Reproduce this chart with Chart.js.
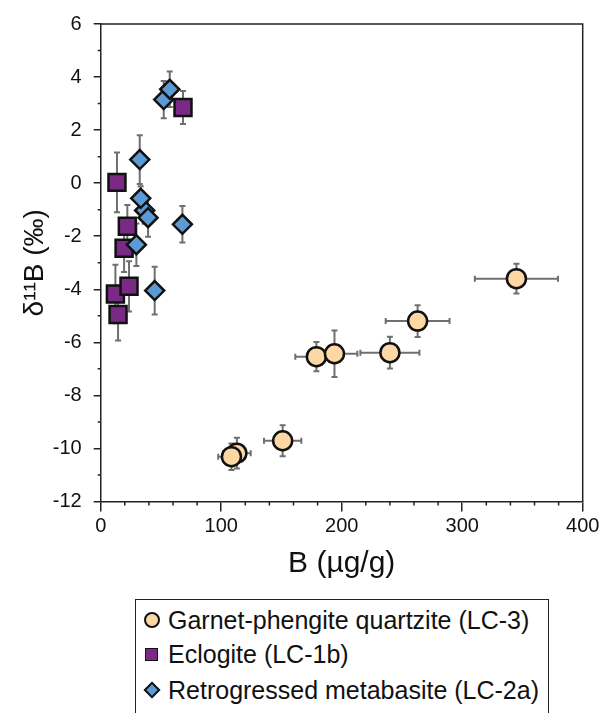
<!DOCTYPE html>
<html>
<head>
<meta charset="utf-8">
<script src="https://cdn.jsdelivr.net/npm/chart.js@4.4.0/dist/chart.umd.min.js"></script>
<style>
  html, body { margin: 0; padding: 0; background: #fff; }
  #wrap { position: relative; width: 605px; height: 713px; overflow: hidden; }
  #legend {
    position: absolute; left: 135px; top: 599px; width: 414px; height: 150px;
    border: 1.5px solid #222; box-sizing: border-box; background: #fff;
    font-family: "Liberation Sans", Arial, sans-serif; font-size: 25px; color: #111;
  }
  .item { position: absolute; left: 0; height: 30px; line-height: 30px; white-space: nowrap; }
  .item span.txt { position: absolute; left: 32px; top: 0; }
  .mark { position: absolute; box-sizing: border-box; }
  .m-circle { left: 7.5px; top: 7px; width: 16px; height: 16px; border-radius: 50%; background: #fdd8a5; border: 2px solid #111; }
  .m-square { left: 9px; top: 8.5px; width: 13px; height: 13px; background: #7a2a85; border: 1.5px solid #111; }
  .m-diamond { left: 9.5px; top: 9px; width: 12px; height: 12px; background: #5b9bd5; border: 2px solid #111; transform: rotate(45deg); }
</style>
</head>
<body>
<div id="wrap">
  <canvas id="boronChart" width="605" height="713"></canvas>
  <div id="legend"></div>
</div>
<script>
// Garnet-phengite quartzite (LC-3)
const garnetB = [345, 263, 240, 179, 194, 151, 113, 108.5];
const garnetDelta = [-3.6, -5.2, -6.39, -6.54, -6.43, -9.71, -10.18, -10.31];
const garnetBErr = [34.5, 26.5, 24.5, 17.5, 19, 15.5, 11.5, 11];
const garnetDeltaErr = [0.56, 0.6, 0.6, 0.55, 0.88, 0.58, 0.58, 0.5];

// Eclogite (LC-1b)
const eclogiteB = [68.3, 13.5, 22.1, 19.4, 12.2, 23.5, 14.4];
const eclogiteDelta = [2.85, 0.03, -1.62, -2.45, -4.18, -3.89, -4.95];
const eclogiteDeltaErr = [0.62, 1.13, 0.8, 0.9, 1.1, 0.95, 0.98];

// Retrogressed metabasite (LC-2a)
const retroB = [52.3, 57.3, 32.4, 36.5, 33.2, 39.3, 67.8, 29.6, 44.8];
const retroDelta = [3.15, 3.54, 0.89, -1.03, -0.57, -1.3, -1.55, -2.32, -4.05];
const retroDeltaErr = [0.7, 0.67, 0.92, 0.5, 0.45, 0.72, 0.69, 0.8, 0.9];

const seriesLabels = ['Garnet-phengite quartzite (LC-3)', 'Eclogite (LC-1b)', 'Retrogressed metabasite (LC-2a)'];
const xMinorTicks = [20, 40, 60, 80, 120, 140, 160, 180, 220, 240, 260, 280, 320, 340, 360, 380];
const yMinorTicks = [-11, -9, -7, -5, -3, -1, 1, 3, 5];

const FONT = '"Liberation Sans", Arial, sans-serif';
const INK = '#111';
const AXIS = '#222';

function toPoints(xs, ys) {
  return xs.map((v, i) => ({ x: v, y: ys[i] }));
}

const errorBars = {
  id: 'errorBars',
  beforeDatasetsDraw(chart) {
    const { ctx, scales: { x, y } } = chart;
    const cap = 3;
    ctx.save();
    ctx.strokeStyle = '#6f6f6f';
    ctx.lineWidth = 2;
    chart.data.datasets.forEach(ds => {
      ds.data.forEach((p, i) => {
        const px = x.getPixelForValue(p.x);
        const py = y.getPixelForValue(p.y);
        ctx.beginPath();
        const xe = ds.xErr ? ds.xErr[i] : 0;
        if (xe) {
          const x1 = x.getPixelForValue(p.x - xe);
          const x2 = x.getPixelForValue(p.x + xe);
          ctx.moveTo(x1, py); ctx.lineTo(x2, py);
          ctx.moveTo(x1, py - cap); ctx.lineTo(x1, py + cap);
          ctx.moveTo(x2, py - cap); ctx.lineTo(x2, py + cap);
        }
        const ye = ds.yErr ? ds.yErr[i] : 0;
        if (ye) {
          const y1 = y.getPixelForValue(p.y - ye);
          const y2 = y.getPixelForValue(p.y + ye);
          ctx.moveTo(px, y1); ctx.lineTo(px, y2);
          ctx.moveTo(px - cap, y1); ctx.lineTo(px + cap, y1);
          ctx.moveTo(px - cap, y2); ctx.lineTo(px + cap, y2);
        }
        ctx.stroke();
      });
    });
    ctx.restore();
  }
};

const frame = {
  id: 'frame',
  afterDraw(chart) {
    const { ctx, chartArea: a, scales: { x, y } } = chart;
    ctx.save();
    ctx.strokeStyle = AXIS;
    ctx.lineWidth = 1.5;
    ctx.beginPath();
    ctx.moveTo(a.left, a.top);
    ctx.lineTo(a.right, a.top);
    ctx.lineTo(a.right, a.bottom);
    xMinorTicks.forEach(v => {
      const px = x.getPixelForValue(v);
      ctx.moveTo(px, a.bottom);
      ctx.lineTo(px, a.bottom + 4);
    });
    yMinorTicks.forEach(v => {
      const py = y.getPixelForValue(v);
      ctx.moveTo(a.left, py);
      ctx.lineTo(a.left - 3, py);
    });
    ctx.stroke();
    ctx.restore();
  }
};

const ctx = document.getElementById('boronChart');
const boronChart = new Chart(ctx, {
  type: 'scatter',
  data: {
    datasets: [
      {
        label: seriesLabels[0],
        data: toPoints(garnetB, garnetDelta),
        xErr: garnetBErr,
        yErr: garnetDeltaErr,
        pointStyle: 'circle',
        pointRadius: 9.5,
        backgroundColor: '#fdd8a5',
        borderColor: INK,
        borderWidth: 2.5,
        order: 3
      },
      {
        label: seriesLabels[1],
        data: toPoints(eclogiteB, eclogiteDelta),
        yErr: eclogiteDeltaErr,
        pointStyle: 'rect',
        pointRadius: 12,
        backgroundColor: '#7a2a85',
        borderColor: INK,
        borderWidth: 2.5,
        order: 2
      },
      {
        label: seriesLabels[2],
        data: toPoints(retroB, retroDelta),
        yErr: retroDeltaErr,
        pointStyle: 'rectRot',
        pointRadius: 9.5,
        backgroundColor: '#5b9bd5',
        borderColor: INK,
        borderWidth: 2.5,
        order: 1
      }
    ]
  },
  options: {
    responsive: false,
    animation: false,
    devicePixelRatio: 1,
    layout: { padding: { left: 0, top: 21.5, right: 22.3, bottom: 131.5 } },
    scales: {
      x: {
        type: 'linear',
        min: 0,
        max: 400,
        ticks: { stepSize: 100, color: INK, padding: 3, font: { size: 20, family: FONT } },
        grid: { drawOnChartArea: false, drawTicks: true, tickLength: 10, tickColor: AXIS, tickWidth: 1.5, lineWidth: 1.5 },
        border: { display: true, color: AXIS, width: 1.5 },
        title: { display: true, text: 'B (µg/g)', color: INK, font: { size: 30, family: FONT }, padding: { top: 0, bottom: 0 } },
        afterFit(scale) { scale.height = 80; }
      },
      y: {
        type: 'linear',
        min: -12,
        max: 6,
        ticks: { stepSize: 2, color: INK, padding: 12, font: { size: 20, family: FONT } },
        grid: { drawOnChartArea: false, drawTicks: true, tickLength: 7, tickColor: AXIS, tickWidth: 1.5, lineWidth: 1.5 },
        border: { display: true, color: AXIS, width: 1.5 },
        title: { display: true, text: 'δ¹¹B (‰)', color: INK, font: { size: 28, family: FONT }, padding: { top: 18, bottom: 0 } },
        afterFit(scale) { scale.width = 100.7; }
      }
    },
    plugins: {
      legend: { display: false },
      tooltip: { enabled: false }
    }
  },
  plugins: [errorBars, frame]
});

// legend box below the plot
const legendEl = document.getElementById('legend');
const markClasses = ['m-circle', 'm-square', 'm-diamond'];
const rowTops = [5, 39, 75];
seriesLabels.forEach((label, i) => {
  const item = document.createElement('div');
  item.className = 'item';
  item.style.top = rowTops[i] + 'px';
  const mark = document.createElement('div');
  mark.className = 'mark ' + markClasses[i];
  const txt = document.createElement('span');
  txt.className = 'txt';
  txt.textContent = label;
  item.appendChild(mark);
  item.appendChild(txt);
  legendEl.appendChild(item);
});
</script>
</body>
</html>
